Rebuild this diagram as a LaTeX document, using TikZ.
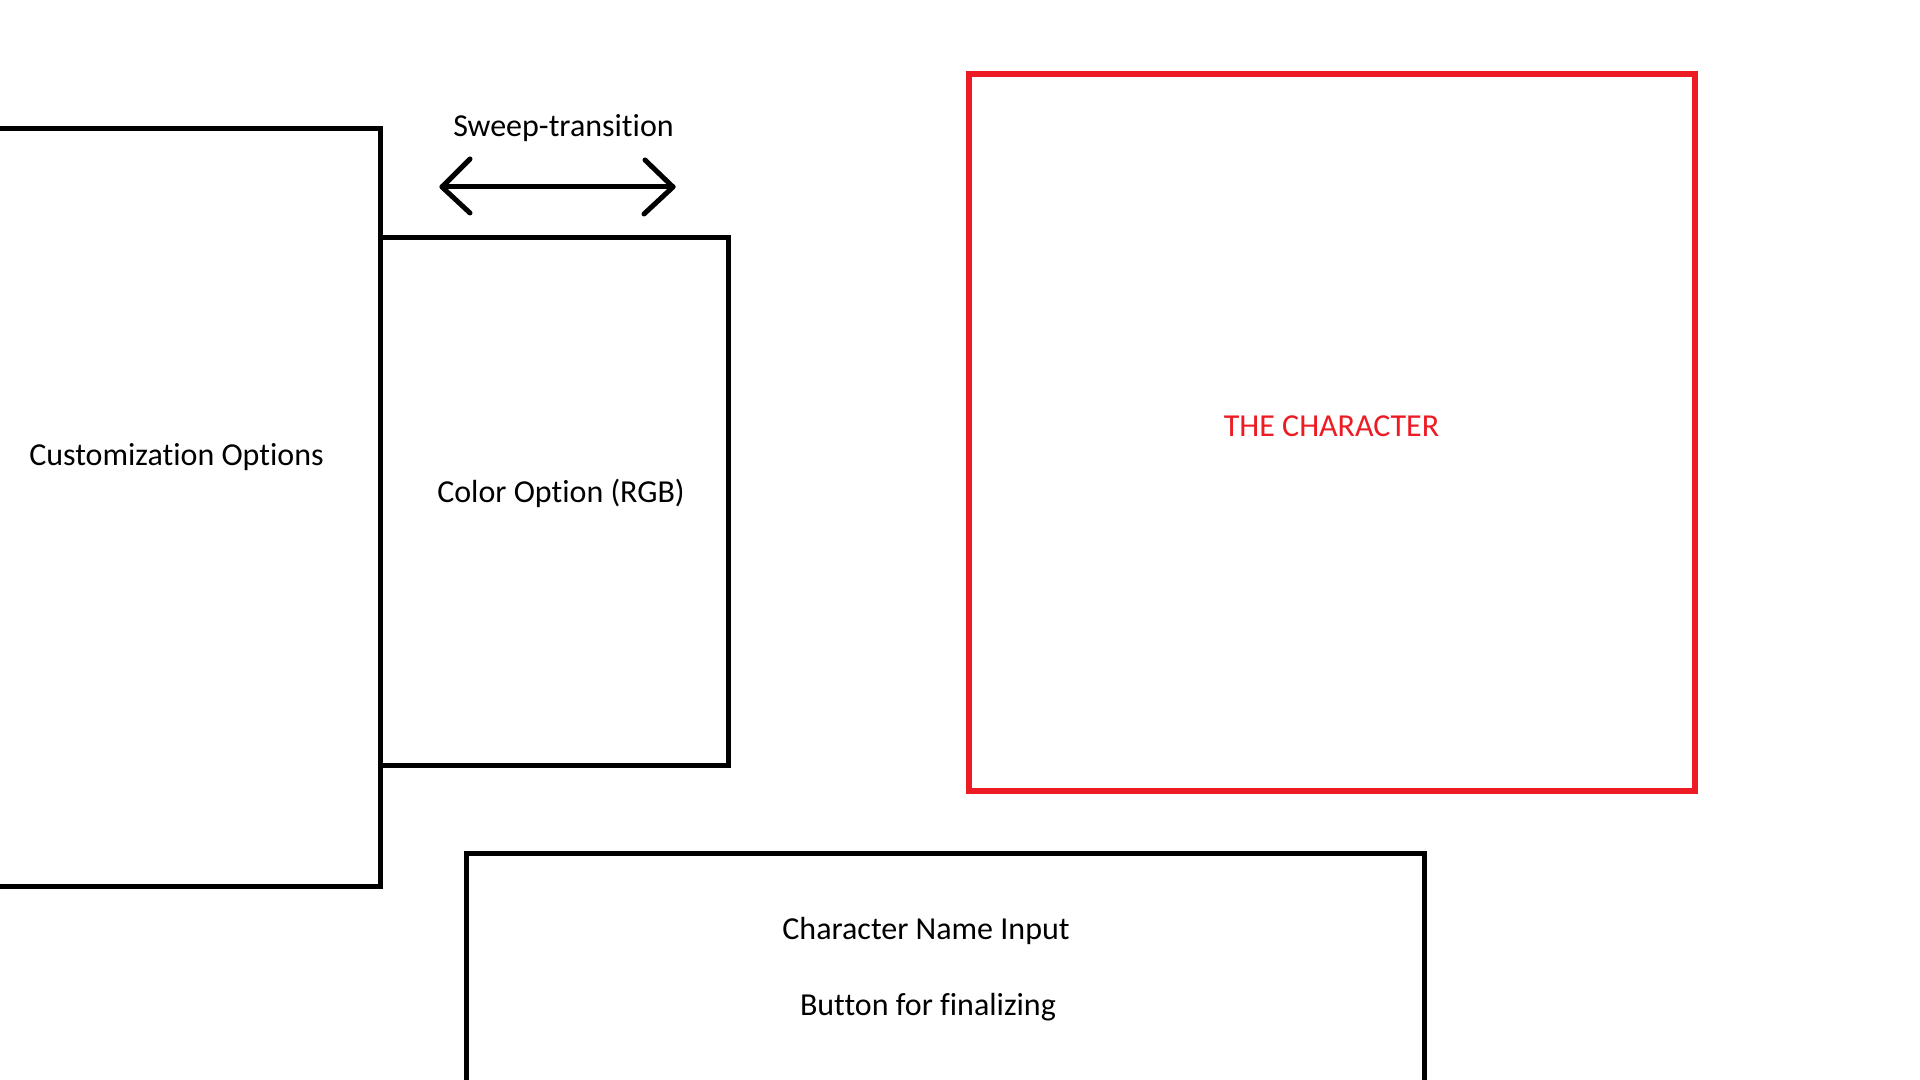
\documentclass[tikz,border=0pt]{standalone}
\usepackage{fontspec}
\setmainfont{Carlito}[Ligatures={NoCommon}]
\definecolor{paintred}{HTML}{ED1C24}
\begin{document}
\begin{tikzpicture}[x=0.5pt,y=-0.5pt,
  box/.style={draw=black,line width=2.5pt},
  redbox/.style={draw=paintred,line width=2.6pt},
  lbl/.style={font=\fontsize{16pt}{19pt}\selectfont,anchor=base,inner sep=0pt},
  arr/.style={draw=black,line width=2.5pt,line cap=round,line join=round}]
\useasboundingbox (0,0) rectangle (1920,1080);
\clip (0,0) rectangle (1920,1080);
\fill[white] (0,0) rectangle (1920,1080);
% boxes
\draw[box] (-20,129) rectangle (380,886);
\draw[box] (380,238) rectangle (728,765);
\draw[redbox] (969,74) rectangle (1695,791);
\draw[box] (466,853) rectangle (1424,1120);
% arrow
\coordinate (aL) at (442,187);
\coordinate (aR) at (673,187);
\draw[arr] (aL) -- (aR);
\draw[arr] ([shift={(28,-28)}]aL) -- (aL) -- ([shift={(28,26)}]aL);
\draw[arr] ([shift={(-28,-27)}]aR) -- (aR) -- ([shift={(-29,27)}]aR);
% labels
\node[lbl] (sweep) at (563.5,136.5) {Sweep-transition};
\node[lbl] (cust) at (176.5,465.5) {Customization Options};
\node[lbl] (color) at (561,502) {Color Option (RGB)};
\node[lbl,text=paintred] (char) at (1331.5,436) {THE CHARACTER};
\node[lbl] (name) at (926,939) {Character Name Input};
\node[lbl] (btn) at (928,1015) {Button for finalizing};
\end{tikzpicture}
\end{document}
